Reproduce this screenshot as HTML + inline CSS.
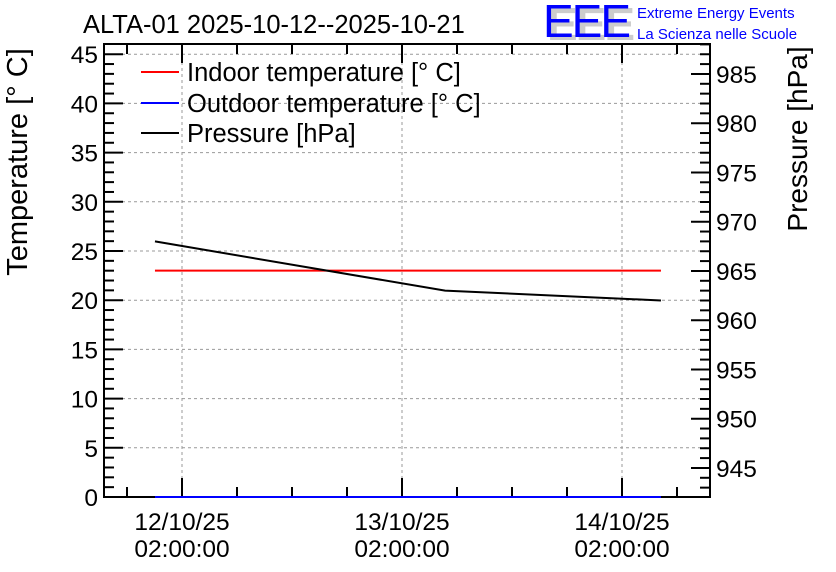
<!DOCTYPE html>
<html><head><meta charset="utf-8"><style>
body{margin:0;background:#fff}
svg{display:block;font-family:"Liberation Sans",sans-serif}
</style></head><body>
<svg id="c" width="836" height="572">
<text x="83" y="33" font-size="25.5">ALTA-01 2025-10-12--2025-10-21</text>
<g>
<text x="547" y="40" font-size="46" fill="#ccc" font-weight="bold" letter-spacing="-2">EEE</text>
<text x="543" y="37" font-size="46" fill="#0000ff" letter-spacing="-2">EEE</text>
<text x="637" y="18" font-size="15" fill="#0000ff">Extreme Energy Events</text>
<text x="637" y="39" font-size="15" fill="#0000ff">La Scienza nelle Scuole</text>
</g>
<text transform="translate(27,162) rotate(-90)" text-anchor="middle" font-size="29">Temperature [° C]</text>
<text transform="translate(807,139) rotate(-90)" text-anchor="middle" font-size="28">Pressure [hPa]</text>
<g id="grid"></g><g id="axes"></g><g id="marks"></g>
<g font-size="25.5">
<line x1="141" y1="72" x2="179" y2="72" stroke="#f00" stroke-width="2"/><text x="187" y="81">Indoor temperature [° C]</text>
<line x1="141" y1="103" x2="179" y2="103" stroke="#00f" stroke-width="2"/><text x="187" y="112">Outdoor temperature [° C]</text>
<line x1="141" y1="133" x2="179" y2="133" stroke="#000" stroke-width="2"/><text x="187" y="142">Pressure [hPa]</text>
</g>
</svg>
<script>
// hours relative to 12/10/25 02:00:00
const timesH=[-2.95,28.7,52.25];
const indoorT=[23,23,23];
const outdoorT=[0,0,0];
const pressureHpa=[968.0,963.0,962.0];
const tempTicks=[0,5,10,15,20,25,30,35,40,45];
const presTicks=[945,950,955,960,965,970,975,980,985];
const xTickHours=[0,24,48];
const xTickLabels=["12/10/25","13/10/25","14/10/25"];

const L=104,R=710,T=44,B=497;
const xS=h=>182+h*220/24;
const yT=v=>B-v*9.84;
const yP=p=>B-(p-942.05)*9.85;
const NS="http://www.w3.org/2000/svg";
function mk(tag,attrs,parent,txt){const e=document.createElementNS(NS,tag);for(const k in attrs)e.setAttribute(k,attrs[k]);if(txt!==undefined)e.textContent=txt;document.getElementById(parent).appendChild(e);return e;}
tempTicks.forEach(v=>{if(v===0)return;const g=mk('line',{x1:L,x2:R,y1:yT(v),y2:yT(v),stroke:'#999','stroke-dasharray':'3,3'},'grid');

});
xTickHours.forEach(h=>{const g=mk('line',{x1:xS(h),x2:xS(h),y1:T,y2:B,stroke:'#999','stroke-dasharray':'3,3'},'grid');

});
const fr=mk('rect',{x:L,y:T,width:R-L,height:B-T,fill:'none',stroke:'#000','stroke-width':2},'axes');


for(let v=0;v<=45.5;v+=1){const big=v%5===0;const y=yT(v);
mk('line',{x1:L,x2:L+(big?19:10),y1:y,y2:y,stroke:'#000','stroke-width':2},'axes');}
tempTicks.forEach(v=>{const t=mk('text',{x:L-6,y:yT(v)+9,'text-anchor':'end','font-size':24.5},'axes',String(v));

});
for(let p=943;p<=988;p+=1){const big=p%5===0;const y=yP(p);
mk('line',{x1:R,x2:R-(big?19:10),y1:y,y2:y,stroke:'#000','stroke-width':2},'axes');}
presTicks.forEach(p=>{const t=mk('text',{x:R+6,y:yP(p)+9,'font-size':24.5},'axes',String(p));

});
for(let h=-12;h<=60;h+=6){const x=xS(h);if(x<L||x>R)continue;const big=h%24===0;
mk('line',{x1:x,x2:x,y1:B,y2:B-(big?19:10),stroke:'#000','stroke-width':2},'axes');
mk('line',{x1:x,x2:x,y1:T,y2:T+(big?19:10),stroke:'#000','stroke-width':2},'axes');}
xTickHours.forEach((h,i)=>{const a=mk('text',{x:xS(h),y:530,'text-anchor':'middle','font-size':24.5},'axes',xTickLabels[i]);


const b=mk('text',{x:xS(h),y:557,'text-anchor':'middle','font-size':24.5},'axes','02:00:00');

});
function line(vals,yf,color,name){const pts=timesH.map((h,i)=>xS(h)+','+yf(vals[i])).join(' ');
const p=mk('polyline',{points:pts,fill:'none',stroke:color,'stroke-width':2},'marks');

}
line(indoorT,yT,'#f00','indoor-temperature-line');
line(outdoorT,yT,'#00f','outdoor-temperature-line');
line(pressureHpa,yP,'#000','pressure-line');
</script>
</body></html>
